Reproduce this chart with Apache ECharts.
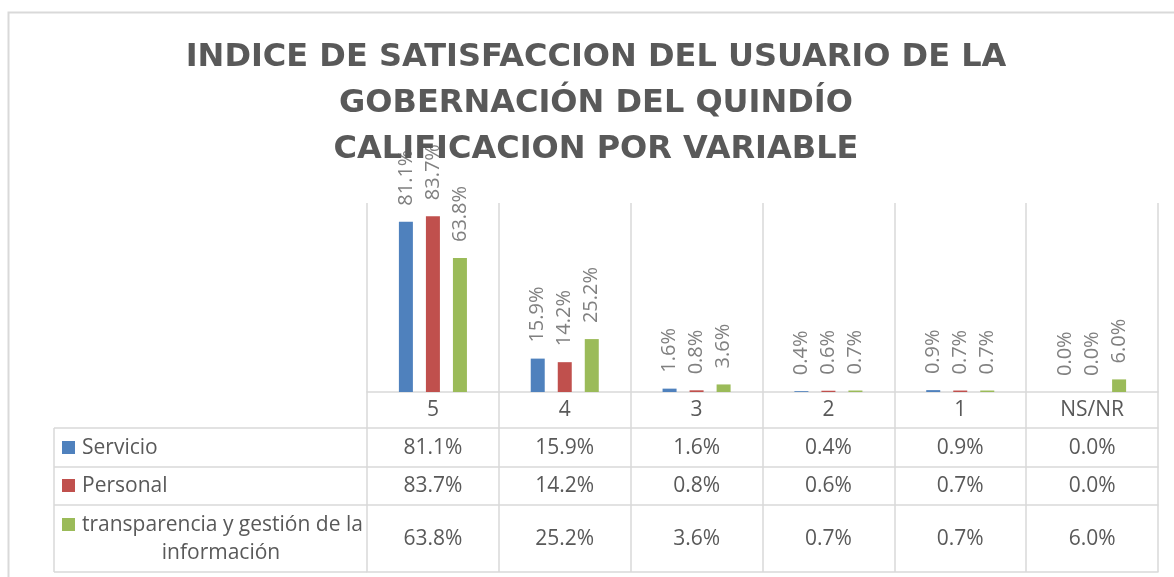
<!DOCTYPE html>
<html>
<head>
<meta charset="utf-8">
<script src="https://cdn.jsdelivr.net/npm/echarts@6/dist/echarts.min.js"></script>
<style>
html,body{margin:0;padding:0;background:#fff;}
#chart{width:1174px;height:577px;}
</style>
</head>
<body>
<div id="chart"></div>
<script>
// ---- data ----
const categories = ['5', '4', '3', '2', '1', 'NS/NR'];
const seriesNames = ['Servicio', 'Personal', 'transparencia y gestión de la información'];
const servicio = [81.1, 15.9, 1.6, 0.4, 0.9, 0.0];
const personal = [83.7, 14.2, 0.8, 0.6, 0.7, 0.0];
const transparencia = [63.8, 25.2, 3.6, 0.7, 0.7, 6.0];
const titleLines = ['INDICE DE SATISFACCION DEL USUARIO DE LA', 'GOBERNACIÓN DEL QUINDÍO', 'CALIFICACION POR VARIABLE'];

// ---- styling / layout ----
const colors = ['#4f81bd', '#c0504d', '#9bbb59'];
const rows = [servicio, personal, transparencia];
const gridLine = '#d9d9d9';
const txt = '#595959';
const FONT = 'Open Sans';
const baseY = 392;                 // category axis line
const rowTops = [428, 467, 505];   // table row tops
const tableBottom = 572;
const tableLeft = 54;
const gridLeft = 367;

const fmt = v => v.toFixed(1) + '%';

const xAxes = [{
  type: 'category', data: categories, gridIndex: 0, position: 'bottom',
  axisLine: {lineStyle: {color: gridLine, width: 1.5}},
  axisTick: {show: true, length: rowTops[0] - baseY, lineStyle: {color: gridLine, width: 1.5}},
  splitLine: {show: true, lineStyle: {color: gridLine, width: 1.5}},
  axisLabel: {color: txt, fontSize: 21, fontFamily: FONT, margin: 18, verticalAlign: 'middle'}
}];
const rowHeights = [rowTops[1] - rowTops[0], rowTops[2] - rowTops[1], tableBottom - rowTops[2]];
rows.forEach((r, i) => {
  xAxes.push({
    type: 'category', data: categories, gridIndex: 0, position: 'bottom',
    offset: rowTops[i] - baseY,
    axisLine: {lineStyle: {color: gridLine, width: 1.5}},
    axisTick: {show: true, length: rowHeights[i], lineStyle: {color: gridLine, width: 1.5}},
    splitLine: {show: false},
    axisLabel: {
      color: txt, fontSize: 21, fontFamily: FONT, verticalAlign: 'middle',
      margin: Math.round(rowHeights[i] / 2),
      formatter: (v, idx) => fmt(r[idx])
    }
  });
});
xAxes.push({
  type: 'category', data: categories, gridIndex: 0, position: 'bottom',
  offset: tableBottom - baseY,
  axisLine: {lineStyle: {color: gridLine, width: 1.5}},
  axisTick: {show: false}, axisLabel: {show: false}, splitLine: {show: false}
});

const series = rows.map((r, i) => ({
  name: seriesNames[i], type: 'bar', xAxisIndex: 0, yAxisIndex: 0,
  data: r, barWidth: 14, barGap: '93%',
  itemStyle: {color: colors[i]},
  label: {
    show: true, position: 'top', rotate: 90, distance: 16,
    align: 'left', verticalAlign: 'middle',
    formatter: p => fmt(p.value),
    color: '#808080', fontSize: 20, fontFamily: FONT
  }
}));

// left header column of the data table
const graphics = [
  {type: 'rect', shape: {x: 8.5, y: 12.5, width: 1200, height: 600}, style: {fill: 'none', stroke: gridLine, lineWidth: 2}, silent: true},
  {type: 'line', shape: {x1: tableLeft, y1: rowTops[0], x2: tableLeft, y2: tableBottom}, style: {stroke: gridLine, lineWidth: 1.5}},
];
[rowTops[0], rowTops[1], rowTops[2], tableBottom].forEach(y => {
  graphics.push({type: 'line', shape: {x1: tableLeft, y1: y, x2: gridLeft, y2: y}, style: {stroke: gridLine, lineWidth: 1.5}});
});
const keyCenters = [448, 486, 525];
seriesNames.forEach((n, i) => {
  graphics.push({type: 'rect', shape: {x: 62, y: keyCenters[i] - 7, width: 13, height: 13}, style: {fill: colors[i]}});
});
graphics.push({type: 'text', x: 82, y: keyCenters[0], style: {text: seriesNames[0], fill: txt, font: '21px "' + FONT + '"', verticalAlign: 'middle', align: 'left'}});
graphics.push({type: 'text', x: 82, y: keyCenters[1], style: {text: seriesNames[1], fill: txt, font: '21px "' + FONT + '"', verticalAlign: 'middle', align: 'left'}});
graphics.push({type: 'text', x: 82, y: keyCenters[2], style: {text: 'transparencia y gestión de la', fill: txt, font: '21px "' + FONT + '"', verticalAlign: 'middle', align: 'left'}});
graphics.push({type: 'text', x: 221, y: 553, style: {text: 'información', fill: txt, font: '21px "' + FONT + '"', verticalAlign: 'middle', align: 'center'}});

const chart = echarts.init(document.getElementById('chart'), null, {renderer: 'canvas'});
chart.setOption({
  animation: false,
  backgroundColor: '#fff',
  title: {
    text: titleLines.join('\n'),
    left: 591, top: 30, textAlign: 'center',
    textStyle: {fontFamily: 'DejaVu Sans', fontWeight: 'bold', fontSize: 32, color: txt, lineHeight: 46}
  },
  grid: {left: gridLeft, right: 1174 - 1158, top: 203, bottom: 577 - baseY, containLabel: false},
  xAxis: xAxes,
  yAxis: {type: 'value', min: 0, max: 90, show: false, splitLine: {show: false}},
  series: series,
  graphic: graphics
});
</script>
</body>
</html>
